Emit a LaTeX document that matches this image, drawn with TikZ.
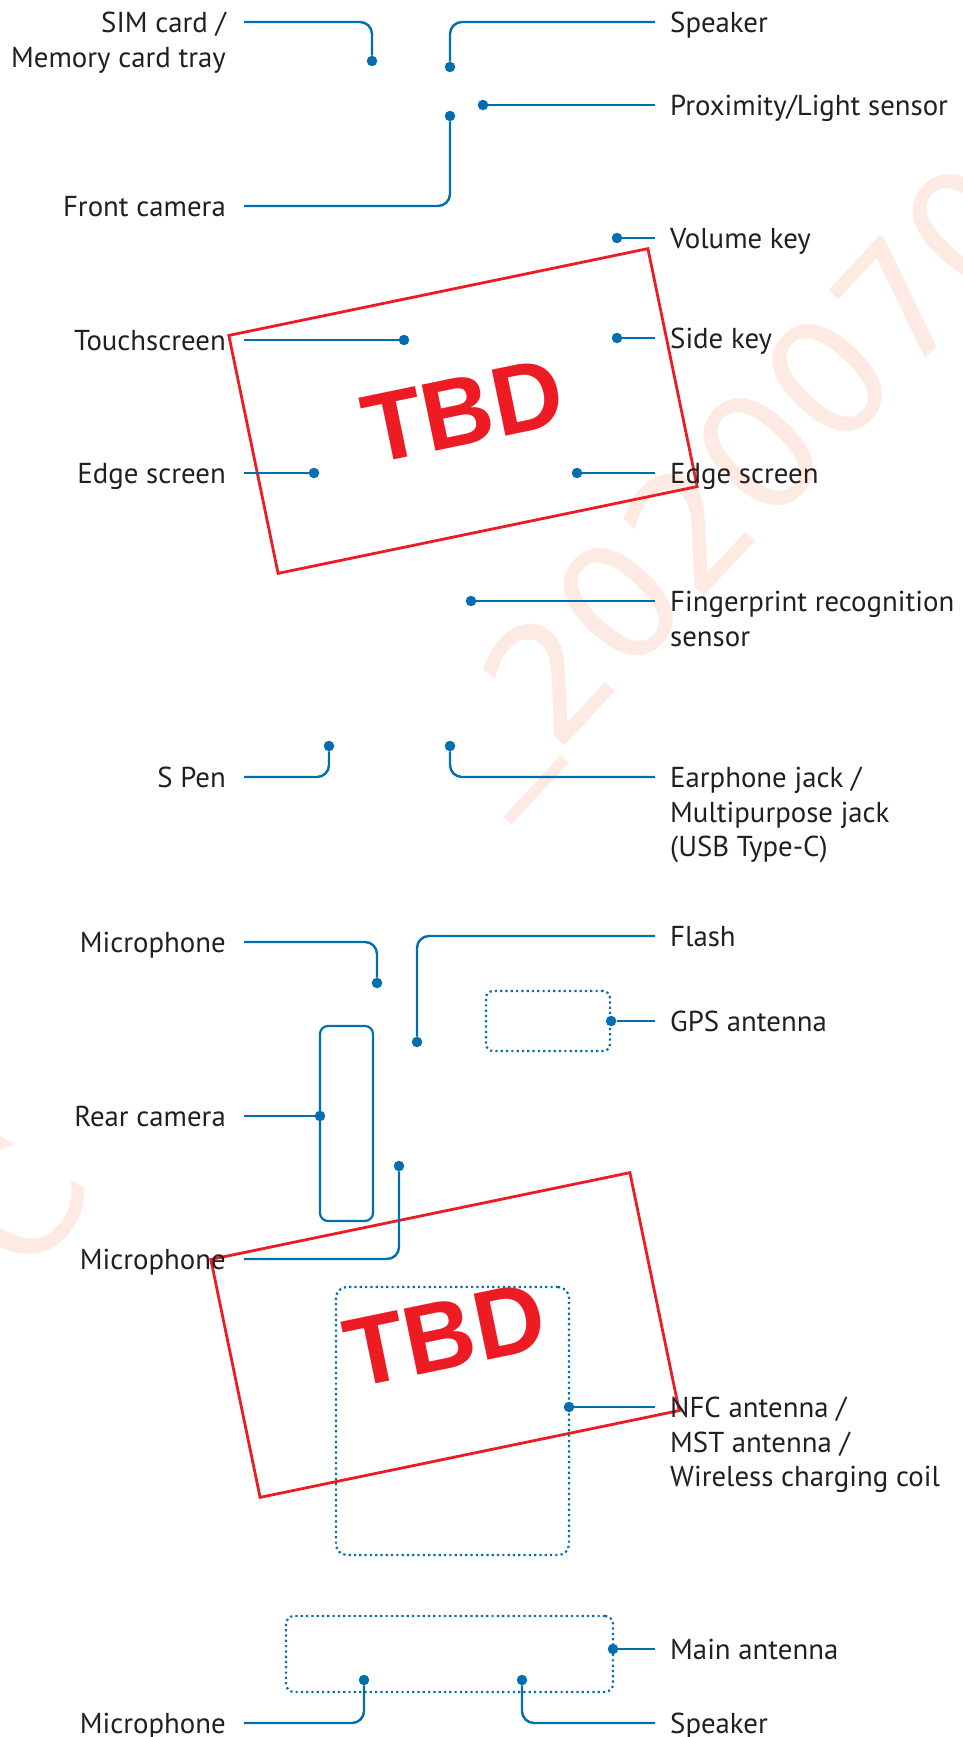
\documentclass[tikz,border=0pt]{standalone}
\usepackage{fontspec}
\setmainfont{PT Sans}
\newfontfamily\arialfont{Liberation Sans}
\newfontfamily\wmfont{DejaVu Sans}
\definecolor{lblue}{RGB}{0,110,175}
\definecolor{tbdred}{RGB}{237,28,36}
\definecolor{wmark}{RGB}{253,234,226}
\definecolor{ltext}{RGB}{35,31,32}
\begin{document}
\begin{tikzpicture}[x=1pt,y=-1pt,
  conn/.style={draw=lblue, line width=2.4pt, rounded corners=12pt},
  pin/.style={circle, fill=lblue, inner sep=0pt, minimum size=10.5pt},
  rlab/.style={anchor=base west, inner sep=0pt, text=ltext, font=\fontsize{28.8}{34.6}\selectfont, yshift=-10.5pt},
  llab/.style={anchor=base east, inner sep=0pt, text=ltext, font=\fontsize{28.8}{34.6}\selectfont, yshift=-10.5pt},
  dotbox/.style={draw=lblue, line width=2.2pt, dash pattern=on 2.2pt off 3.1pt, inner sep=0pt, rounded corners=8pt},
  solidbox/.style={draw=lblue, line width=2.2pt, inner sep=0pt, rounded corners=8pt},
  tbdbox/.style={draw=tbdred, line width=2.8pt, rotate=11.7, minimum width=428pt, minimum height=243pt, inner sep=0pt, text=tbdred, font=\arialfont\bfseries\fontsize{98}{98}\selectfont},
  wm/.style={text=wmark, inner sep=0pt, font=\wmfont\fontsize{161}{161}\selectfont}
]
\useasboundingbox (0,0) rectangle (962,1737);

% watermark
\node[wm, rotate=46.9, anchor=base west] (wmline) at (501,813) {\raisebox{22pt}{\_}2020070};
\node[wm, rotate=58] (wmc) at (18,1203) {C};

% red TBD boxes
\node[tbdbox] (tbd1) at (463,411) {TBD};
\node[tbdbox] (tbd2) at (445,1335) {TBD};

% outline boxes
\node[dotbox, minimum width=124pt, minimum height=60pt, rounded corners=7pt] (gpsbox) at (548,1021) {};
\node[solidbox, minimum width=53pt, minimum height=195pt] (rearbox) at (346.5,1123.5) {};
\node[dotbox, minimum width=233pt, minimum height=268pt, rounded corners=11pt] (nfcbox) at (452.5,1421) {};
\node[dotbox, minimum width=327pt, minimum height=76pt] (mainbox) at (449.5,1654) {};

% pins
\node[pin] (pSim) at (372,61) {};
\node[pin] (pSp1) at (450,67) {};
\node[pin] (pProx) at (483,105) {};
\node[pin] (pFront) at (450,116) {};
\node[pin] (pVol) at (617,238) {};
\node[pin] (pTouch) at (404,340) {};
\node[pin] (pSide) at (617,338) {};
\node[pin] (pEdgeL) at (314,473) {};
\node[pin] (pEdgeR) at (577,473) {};
\node[pin] (pFp) at (471,601) {};
\node[pin] (pSpen) at (329,746) {};
\node[pin] (pEar) at (450,746) {};
\node[pin] (pMic1) at (377,983) {};
\node[pin] (pFlash) at (417,1042) {};
\node[pin] (pGps) at (gpsbox.east) {};
\node[pin] (pRear) at (320,1116) {};
\node[pin] (pMic2) at (399,1166) {};
\node[pin] (pNfc) at (569,1407) {};
\node[pin] (pMain) at (613,1649) {};
\node[pin] (pMic3) at (364,1680) {};
\node[pin] (pSp3) at (522,1680) {};

% connector free ends
\coordinate (cSim) at (244,22);
\coordinate (cSp1) at (655,22);
\coordinate (cProx) at (655,105);
\coordinate (cFront) at (244,206);
\coordinate (cVol) at (655,238);
\coordinate (cTouch) at (244,340);
\coordinate (cSide) at (655,338);
\coordinate (cEdgeL) at (244,473);
\coordinate (cEdgeR) at (655,473);
\coordinate (cFp) at (655,601);
\coordinate (cSpen) at (244,777);
\coordinate (cEar) at (655,777);
\coordinate (cMic1) at (244,942);
\coordinate (cFlash) at (655,936);
\coordinate (cGps) at (655,1021);
\coordinate (cRear) at (244,1116);
\coordinate (cMic2) at (244,1259);
\coordinate (cNfc) at (655,1407);
\coordinate (cMain) at (655,1649);
\coordinate (cMic3) at (244,1723);
\coordinate (cSp3) at (655,1723);

% connectors
\draw[conn] (cSim) -| (pSim);
\draw[conn] (cSp1) -| (pSp1);
\draw[conn] (pProx) -- (cProx);
\draw[conn] (cFront) -| (pFront);
\draw[conn] (pVol) -- (cVol);
\draw[conn] (cTouch) -- (pTouch);
\draw[conn] (pSide) -- (cSide);
\draw[conn] (cEdgeL) -- (pEdgeL);
\draw[conn] (pEdgeR) -- (cEdgeR);
\draw[conn] (pFp) -- (cFp);
\draw[conn] (cSpen) -| (pSpen);
\draw[conn] (cEar) -| (pEar);
\draw[conn] (cMic1) -| (pMic1);
\draw[conn] (cFlash) -| (pFlash);
\draw[conn] (pGps) -- (cGps);
\draw[conn] (cRear) -- (pRear);
\draw[conn] (cMic2) -| (pMic2);
\draw[conn] (pNfc) -- (cNfc);
\draw[conn] (pMain) -- (cMain);
\draw[conn] (cMic3) -| (pMic3);
\draw[conn] (cSp3) -| (pSp3);

% labels right
\node[rlab] (lSp1) at (670,22) {Speaker};
\node[rlab] (lProx) at (670,105) {Proximity/Light sensor};
\node[rlab] (lVol) at (670,238) {Volume key};
\node[rlab] (lSide) at (670,338) {Side key};
\node[rlab] (lEdgeR) at (670,473) {Edge screen};
\node[rlab] (lFp) at (670,601) {\begin{tabular}[t]{@{}l@{}}Fingerprint recognition\\sensor\end{tabular}};
\node[rlab] (lEar) at (670,777) {\begin{tabular}[t]{@{}l@{}}Earphone jack /\\Multipurpose jack\\(USB Type-C)\end{tabular}};
\node[rlab] (lFlash) at (670,936) {Flash};
\node[rlab] (lGps) at (670,1021) {GPS antenna};
\node[rlab] (lNfc) at (670,1407) {\begin{tabular}[t]{@{}l@{}}NFC antenna /\\MST antenna /\\Wireless charging coil\end{tabular}};
\node[rlab] (lMain) at (670,1649) {Main antenna};
\node[rlab] (lSp3) at (670,1723) {Speaker};

% labels left
\node[llab] (lSim) at (226,22) {\begin{tabular}[t]{@{}r@{}}SIM card /\\Memory card tray\end{tabular}};
\node[llab] (lFront) at (226,206) {Front camera};
\node[llab] (lTouch) at (226,340) {Touchscreen};
\node[llab] (lEdgeL) at (226,473) {Edge screen};
\node[llab] (lSpen) at (226,777) {S Pen};
\node[llab] (lMic1) at (226,942) {Microphone};
\node[llab] (lRear) at (226,1116) {Rear camera};
\node[llab] (lMic2) at (226,1259) {Microphone};
\node[llab] (lMic3) at (226,1723) {Microphone};
\end{tikzpicture}
\end{document}
